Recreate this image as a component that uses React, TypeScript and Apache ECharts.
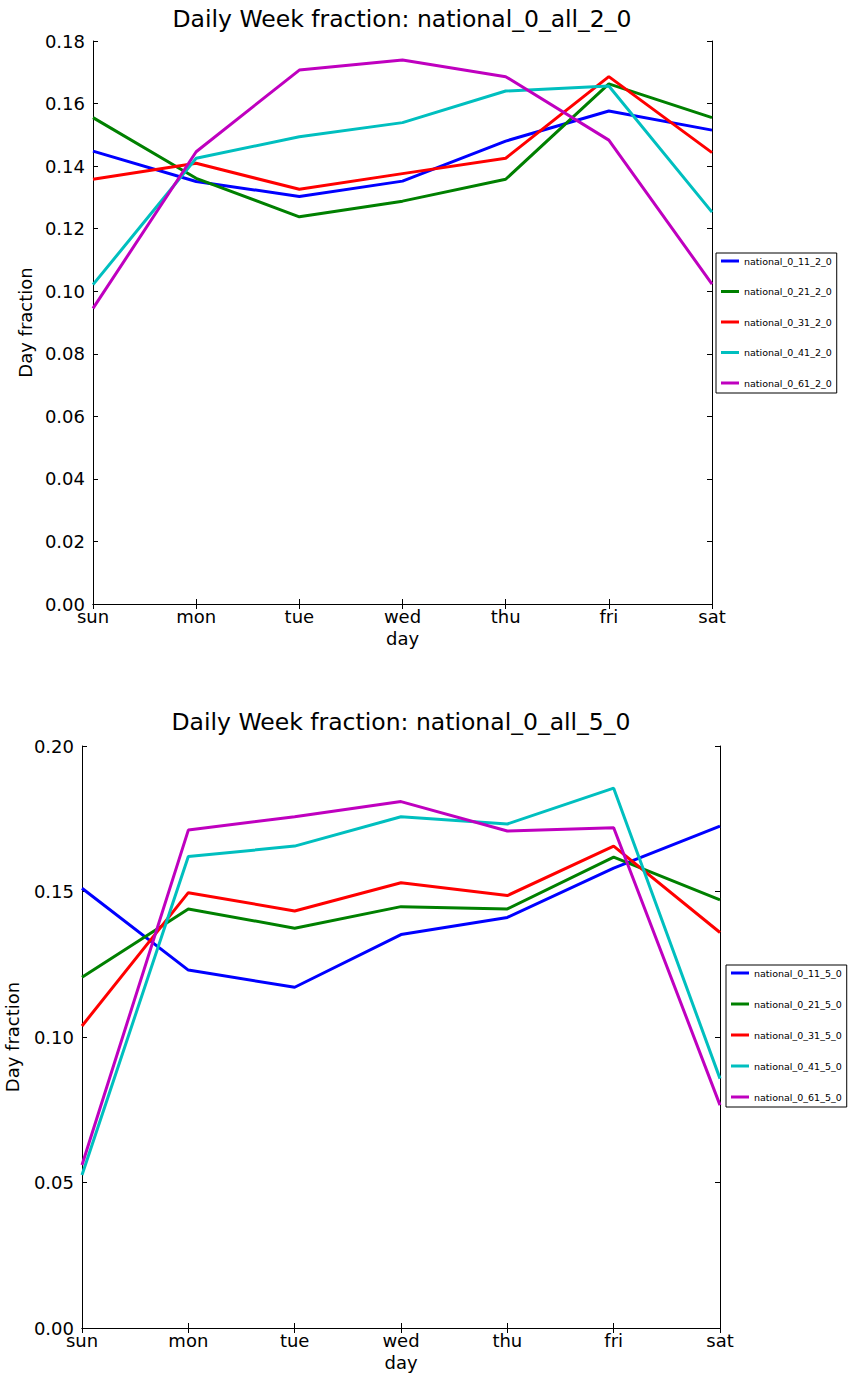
import React, { useEffect, useRef } from "react";
import * as echarts from "echarts";

const days = ["sun", "mon", "tue", "wed", "thu", "fri", "sat"];
const colors = ["#0000ff", "#008000", "#ff0000", "#00bfbf", "#bf00bf"];

const title1 = "Daily Week fraction: national_0_all_2_0";
const title2 = "Daily Week fraction: national_0_all_5_0";

const names1 = ["national_0_11_2_0", "national_0_21_2_0", "national_0_31_2_0", "national_0_41_2_0", "national_0_61_2_0"];
const names2 = ["national_0_11_5_0", "national_0_21_5_0", "national_0_31_5_0", "national_0_41_5_0", "national_0_61_5_0"];

// chart 1 (national_0_all_2_0)
const a11 = [0.1448, 0.1351, 0.1303, 0.1352, 0.148, 0.1576, 0.1515];
const a21 = [0.1555, 0.1361, 0.1238, 0.1288, 0.1358, 0.1663, 0.1555];
const a31 = [0.1358, 0.1409, 0.1326, 0.1376, 0.1425, 0.1686, 0.1443];
const a41 = [0.1021, 0.1425, 0.1494, 0.1539, 0.164, 0.1656, 0.1253];
const a61 = [0.0945, 0.1446, 0.1707, 0.1739, 0.1686, 0.1483, 0.1023];

// chart 2 (national_0_all_5_0)
const b11 = [0.1511, 0.123, 0.1171, 0.1352, 0.1411, 0.158, 0.1725];
const b21 = [0.1205, 0.144, 0.1374, 0.1448, 0.144, 0.1618, 0.1471];
const b31 = [0.1038, 0.1496, 0.1433, 0.153, 0.1486, 0.1656, 0.1359];
const b41 = [0.0526, 0.162, 0.1656, 0.1757, 0.1732, 0.1855, 0.0857];
const b61 = [0.056, 0.1711, 0.1757, 0.1809, 0.1708, 0.1719, 0.0766];

const y1 = { min: 0, max: 0.18, interval: 0.02 };
const y2 = { min: 0, max: 0.2, interval: 0.05 };

const FONT = "DejaVu Sans";

export default function App() {
  const ref = useRef<HTMLDivElement>(null);
  useEffect(() => {
    if (!ref.current) return;
    const chart = echarts.init(ref.current, undefined, { renderer: "svg" });
    const axisLine = { show: true, lineStyle: { color: "#000", width: 1 } };
    const tick = { show: true, inside: true, length: 5, lineStyle: { color: "#000", width: 1 } };
    const mkX = (g: number, pos: "bottom" | "top", main: boolean) => ({
      gridIndex: g,
      type: "category",
      data: days,
      boundaryGap: false,
      position: pos,
      axisLine,
      axisTick: tick,
      splitLine: { show: false },
      axisLabel: main
        ? { show: true, fontSize: 18, fontFamily: FONT, color: "#000", margin: 3 }
        : { show: false },
      name: main ? "day" : "",
      nameLocation: "middle",
      nameGap: 25,
      nameTextStyle: { fontSize: 18, fontFamily: FONT, color: "#000" },
    });
    const mkY = (g: number, pos: "left" | "right", main: boolean, sc: any, gap: number) => ({
      gridIndex: g,
      type: "value",
      position: pos,
      min: sc.min,
      max: sc.max,
      interval: sc.interval,
      axisLine,
      axisTick: tick,
      splitLine: { show: false },
      axisLabel: main
        ? {
            show: true,
            fontSize: 18,
            fontFamily: FONT,
            color: "#000",
            margin: 8,
            formatter: (v: number) => v.toFixed(2),
          }
        : { show: false },
      name: main ? "Day fraction" : "",
      nameLocation: "middle",
      nameGap: gap,
      nameRotate: 90,
      nameTextStyle: { fontSize: 18, fontFamily: FONT, color: "#000" },
    });
    const data1 = [a11, a21, a31, a41, a61];
    const data2 = [b11, b21, b31, b41, b61];
    const series: any[] = [];
    data1.forEach((d, i) =>
      series.push({
        name: names1[i],
        type: "line",
        xAxisIndex: 0,
        yAxisIndex: 0,
        data: d,
        symbol: "none",
        color: colors[i],
        lineStyle: { width: 3, color: colors[i] },
      })
    );
    data2.forEach((d, i) =>
      series.push({
        name: names2[i],
        type: "line",
        xAxisIndex: 2,
        yAxisIndex: 2,
        data: d,
        symbol: "none",
        color: colors[i],
        lineStyle: { width: 3, color: colors[i] },
      })
    );
    const legendBase = {
      orient: "vertical",
      itemWidth: 18,
      itemHeight: 3,
      icon: "rect",
      borderColor: "#000",
      borderWidth: 1,
      backgroundColor: "#fff",
      itemStyle: { borderWidth: 0 },
      textStyle: { fontSize: 9.5, lineHeight: 12, fontFamily: FONT, color: "#000" },
    };
    chart.setOption({
      animation: false,
      backgroundColor: "#fff",
      grid: [
        { left: 93, top: 41, width: 619, height: 563, containLabel: false, outerBoundsMode: "none" },
        { left: 82, top: 746, width: 638, height: 582, containLabel: false, outerBoundsMode: "none" },
      ],
      xAxis: [mkX(0, "bottom", true), mkX(0, "top", false), mkX(1, "bottom", true), mkX(1, "top", false)],
      yAxis: [
        mkY(0, "left", true, y1, 57),
        mkY(0, "right", false, y1, 0),
        mkY(1, "left", true, y2, 61),
        mkY(1, "right", false, y2, 0),
      ],
      legend: [
        { ...legendBase, data: names1, left: 716, top: 253, itemGap: 18.5, padding: [2, 5, 4, 5] },
        { ...legendBase, data: names2, left: 726, top: 965, itemGap: 19, padding: [2, 5, 4, 5] },
      ],
      graphic: [
        {
          type: "text",
          x: 402,
          y: 19,
          style: { text: title1, textAlign: "center", textVerticalAlign: "middle", fontSize: 23.5, fontFamily: FONT, fill: "#000" },
        },
        {
          type: "text",
          x: 401,
          y: 722,
          style: { text: title2, textAlign: "center", textVerticalAlign: "middle", fontSize: 23.5, fontFamily: FONT, fill: "#000" },
        },
      ],
      series,
    });
    return () => chart.dispose();
  }, []);
  return (
    <div
      ref={ref}
      style={{ position: "absolute", left: 0, top: 0, width: 854, height: 1373 }}
    />
  );
}
